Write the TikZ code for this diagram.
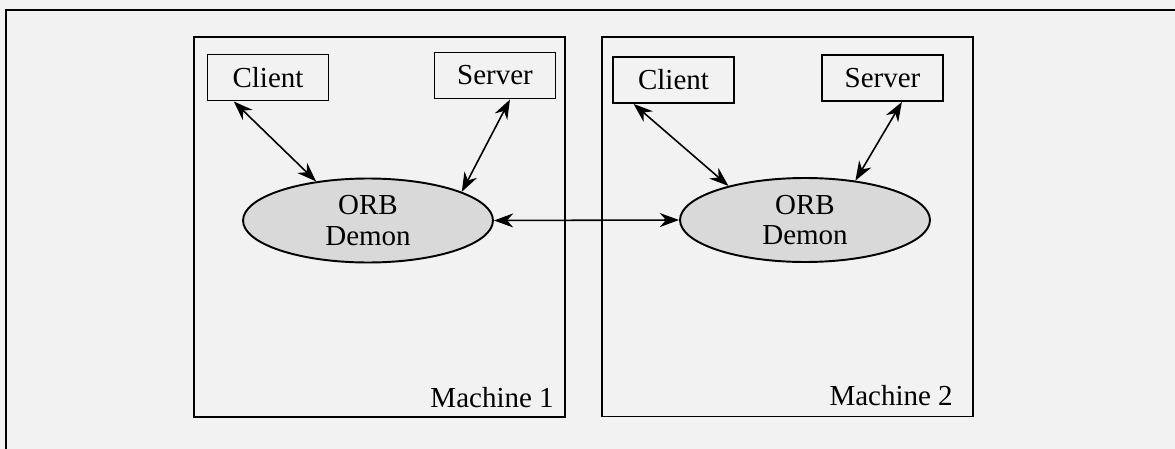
\documentclass[tikz,border=0pt]{standalone}
\usepackage{fontspec}
\setmainfont{Liberation Serif}
\usetikzlibrary{arrows.meta}
\usetikzlibrary{shapes.geometric}

\begin{document}
\begin{tikzpicture}[x=0.02cm,y=-0.02cm,
        mach/.style={draw=black,rectangle,line width=1.1pt,minimum width=7.42cm,minimum height=7.6cm},
        proc/.style={draw=black,rectangle,line width=1.1pt,minimum width=2.42cm,minimum height=0.92cm,font=\fontsize{16.5}{19}\selectfont},
        demon/.style={draw=black,ellipse,line width=1.1pt,fill=black!15,minimum width=5cm,minimum height=1.68cm,inner sep=0pt,align=center,font=\fontsize{16.5}{17.5}\selectfont},
        tag/.style={anchor=base east,inner sep=0pt,font=\fontsize{16.5}{19}\selectfont},
        link/.style={{Stealth[length=11pt,width=8pt]}-{Stealth[length=11pt,width=8pt]},line width=0.9pt}
      ]
      \useasboundingbox[fill=black!5] (0,0) rectangle (1175,449);
      \draw[line width=1.5pt] (6,449) |- (1175,10);

      % first machine
      \node[mach] (machA) at (379.5,227) {};
      \node[proc] (clientA) at (268,77.5) {Client};
      \node[proc] (serverA) at (495,75.5) {Server};
      \node[demon] (demonA) at (368,220.5) {ORB\\Demon};
      \node[tag] (tagA) at (554,407) {Machine 1};

      % second machine
      \node[mach] (machB) at (787.5,226.5) {};
      \node[proc] (clientB) at (673.5,80) {Client};
      \node[proc] (serverB) at (882.5,78) {Server};
      \node[demon] (demonB) at (805,220) {ORB\\Demon};
      \node[tag] (tagB) at (953,405) {Machine 2};

      \draw[link] (clientA.215) -- (demonA.143);
      \draw[link] (serverA.302) -- (demonA.17);
      \draw[link] (clientB.211) -- (demonB.156);
      \draw[link] (serverB.309) -- (demonB.38);
      \draw[link] (demonA.east) -- (demonB.west);
    \end{tikzpicture}
\end{document}
